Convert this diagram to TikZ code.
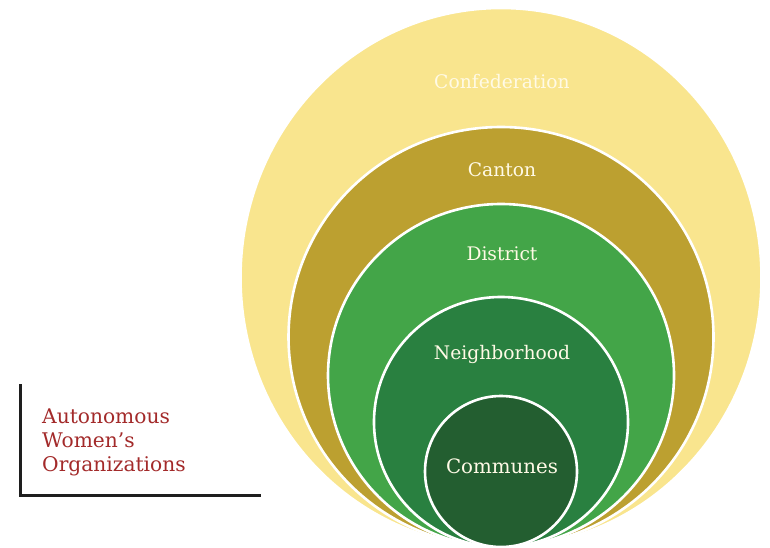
\documentclass[tikz,border=0pt]{standalone}
\usepackage{fontspec}
\setmainfont{DejaVu Serif}
\definecolor{confed}{RGB}{249,229,142}
\definecolor{canton}{RGB}{188,160,48}
\definecolor{district}{RGB}{67,165,72}
\definecolor{hood}{RGB}{41,128,64}
\definecolor{commune}{RGB}{35,94,48}
\definecolor{labelred}{RGB}{163,42,42}
\definecolor{ink}{RGB}{30,30,30}
\definecolor{cream}{RGB}{255,250,230}
\begin{document}
\begin{tikzpicture}[x=1pt,y=-1pt,
  ring/.style={draw=white,line width=2.6pt},
  tier/.style={text=cream,font=\fontsize{18.7}{22}\selectfont,inner sep=0pt},
  sidelabel/.style={text=labelred,font=\fontsize{20.2}{23.6}\selectfont,
    align=left,inner sep=0pt,anchor=north west},
  bracket/.style={draw=ink,line width=3pt}]
\useasboundingbox (0,0) rectangle (770,548);
\fill[white] (0,0) rectangle (770,548);

% nested circles, all touching at the bottom
\path[ring,fill=confed]   (501,277.5) ellipse [x radius=260.5, y radius=269.5];
\path[ring,fill=canton]   (501,337)   ellipse [x radius=212.5, y radius=210];
\path[ring,fill=district] (501,375.5) ellipse [x radius=173,   y radius=171.5];
\path[ring,fill=hood]     (501,422)   ellipse [x radius=127,   y radius=125];
\path[ring,fill=commune]  (501,471.5) ellipse [x radius=76,    y radius=75.5];

% tier names
\node[tier] (tConfed)   at (502,82)  {Confederation};
\node[tier] (tCanton)   at (502,170) {Canton};
\node[tier] (tDistrict) at (502,254) {District};
\node[tier] (tHood)     at (502,354) {Neighborhood};
\node[tier,font=\fontsize{19.8}{22}\selectfont] (tCommune) at (502,466) {Communes};

% side label with its corner bracket
\node[sidelabel] (side) at (42,409) {Autonomous\\Women’s\\Organizations};
\coordinate (brTop) at (20,384);
\coordinate (brEnd) at (261,495);
\draw[bracket] (brTop) |- (brEnd);
\end{tikzpicture}
\end{document}
